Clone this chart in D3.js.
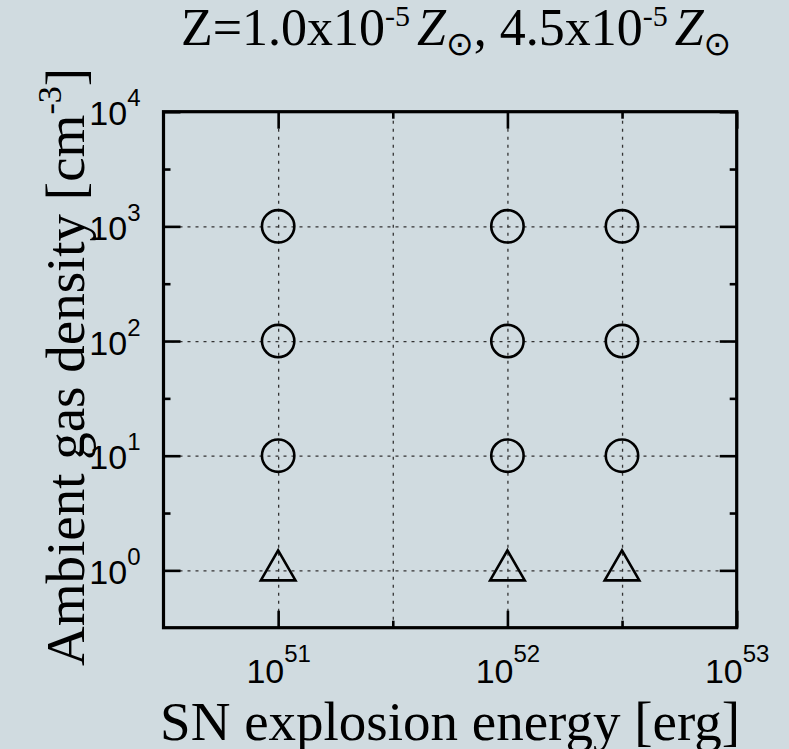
<!DOCTYPE html>
<html>
<head>
<meta charset="utf-8">
<script src="https://cdn.jsdelivr.net/npm/d3@7"></script>
<style>
  body { margin: 0; background: #d0dbe0; }
  svg { display: block; }
  .grid line { stroke: #333; stroke-width: 1.3; stroke-dasharray: 3,5; }
  .ticks line { stroke: #000; stroke-width: 2.6; }
</style>
</head>
<body>
<div id="vis"></div>
<script>
const FRAME_WIDTH = 789;
const FRAME_HEIGHT = 749;
const MARGINS = {left: 163.5, right: 52.3, top: 111.7, bottom: 121.3};

const VIS_WIDTH = FRAME_WIDTH - MARGINS.left - MARGINS.right;
const VIS_HEIGHT = FRAME_HEIGHT - MARGINS.top - MARGINS.bottom;

// models run: explosion energy [erg] x ambient density [cm^-3]
const energies = [1e51, 1e52, 3.16e52];
const densities = [1e0, 1e1, 1e2, 1e3];
const markerTypes = ["triangle", "circle", "circle", "circle"]; // one per density

// axis ranges and ticks
const xDomain = [3.162e50, 1e53];
const yDomain = [3.162e-1, 1e4];
const xMajorTicks = [1e51, 1e52, 1e53];
const xMinorTicks = [3.162e51, 3.162e52];
const yMajorTicks = [1e0, 1e1, 1e2, 1e3, 1e4];
const yMinorTicks = [3.162e0, 3.162e1, 3.162e2, 3.162e3];
const xGridValues = [1e51, 3.162e51, 1e52, 3.162e52];
const yGridValues = [1e0, 1e1, 1e2, 1e3];

const FRAME = d3.select("#vis")
  .append("svg")
    .attr("width", FRAME_WIDTH)
    .attr("height", FRAME_HEIGHT);

const X_SCALE = d3.scaleLog().domain(xDomain).range([0, VIS_WIDTH]);
const Y_SCALE = d3.scaleLog().domain(yDomain).range([VIS_HEIGHT, 0]);

const plot = FRAME.append("g")
  .attr("transform", "translate(" + MARGINS.left + "," + MARGINS.top + ")");

// dotted grid
plot.append("g")
    .attr("class", "grid")
    .attr("transform", "translate(0," + VIS_HEIGHT + ")")
    .call(d3.axisBottom(X_SCALE).tickValues(xGridValues).tickSize(-VIS_HEIGHT).tickFormat(""))
    .call(g => g.select(".domain").remove());
plot.append("g")
    .attr("class", "grid")
    .call(d3.axisLeft(Y_SCALE).tickValues(yGridValues).tickSize(-VIS_WIDTH).tickFormat(""))
    .call(g => g.select(".domain").remove());

// inward ticks on all four sides
function tickAxis(axis, transform) {
  plot.append("g")
      .attr("class", "ticks")
      .attr("transform", transform)
      .call(axis)
      .call(g => g.select(".domain").remove());
}
const MAJOR = 17, MINOR = 7;
tickAxis(d3.axisBottom(X_SCALE).tickValues(xMajorTicks).tickSize(-MAJOR).tickFormat(""), "translate(0," + VIS_HEIGHT + ")");
tickAxis(d3.axisBottom(X_SCALE).tickValues(xMinorTicks).tickSize(-MINOR).tickFormat(""), "translate(0," + VIS_HEIGHT + ")");
tickAxis(d3.axisTop(X_SCALE).tickValues(xMajorTicks).tickSize(-MAJOR).tickFormat(""), "translate(0,0)");
tickAxis(d3.axisTop(X_SCALE).tickValues(xMinorTicks).tickSize(-MINOR).tickFormat(""), "translate(0,0)");
tickAxis(d3.axisLeft(Y_SCALE).tickValues(yMajorTicks).tickSize(-MAJOR).tickFormat(""), "translate(0,0)");
tickAxis(d3.axisLeft(Y_SCALE).tickValues(yMinorTicks).tickSize(-MINOR).tickFormat(""), "translate(0,0)");
tickAxis(d3.axisRight(Y_SCALE).tickValues(yMajorTicks).tickSize(-MAJOR).tickFormat(""), "translate(" + VIS_WIDTH + ",0)");
tickAxis(d3.axisRight(Y_SCALE).tickValues(yMinorTicks).tickSize(-MINOR).tickFormat(""), "translate(" + VIS_WIDTH + ",0)");

// power-of-ten tick labels
function powerLabels(text, raise) {
  text.each(function(d) {
    const t = d3.select(this).text(null);
    t.append("tspan").text("10");
    t.append("tspan")
      .attr("dy", -raise)
      .attr("font-size", 24)
      .text(Math.round(Math.log10(d)));
  });
}

plot.append("g")
    .attr("transform", "translate(0," + VIS_HEIGHT + ")")
    .call(d3.axisBottom(X_SCALE).tickValues(xMajorTicks).tickSize(0).tickPadding(0))
    .call(g => g.selectAll(".domain, line").remove())
    .attr("font-family", "'Liberation Sans', Arial, sans-serif")
    .attr("font-size", 34)
    .selectAll("text")
      .attr("y", 55.5)
      .attr("dy", null)
      .attr("fill", "#000")
      .call(powerLabels, 21);

plot.append("g")
    .call(d3.axisLeft(Y_SCALE).tickValues(yMajorTicks).tickSize(0).tickPadding(23))
    .call(g => g.selectAll(".domain, line").remove())
    .attr("font-family", "'Liberation Sans', Arial, sans-serif")
    .attr("font-size", 34)
    .selectAll("text")
      .attr("dy", 13)
      .attr("fill", "#000")
      .call(powerLabels, 19);

// frame
plot.append("rect")
    .attr("width", VIS_WIDTH)
    .attr("height", VIS_HEIGHT)
    .attr("fill", "none")
    .attr("stroke", "#000")
    .attr("stroke-width", 3.2);

// markers
const points = [];
densities.forEach((n, i) => energies.forEach(e => points.push({e: e, n: n, type: markerTypes[i]})));

plot.selectAll(".pt")
    .data(points)
    .enter()
    .append("path")
      .attr("class", "pt")
      .attr("transform", d => "translate(" + X_SCALE(d.e) + "," + Y_SCALE(d.n) + ")")
      .attr("d", d => d.type === "circle"
          ? d3.symbol(d3.symbolCircle, Math.PI * 16.2 * 16.2)()
          : d3.symbol(d3.symbolTriangle, 520)())
      .attr("fill", "none")
      .attr("stroke", "#000")
      .attr("stroke-width", 2.6);

// titles
const SERIF = "'Liberation Serif', 'Times New Roman', serif";

const title = FRAME.append("text")
    .attr("x", 181)
    .attr("y", 45)
    .attr("font-family", SERIF)
    .attr("font-size", 52)
    .attr("fill", "#000");
title.append("tspan").text("Z=1.0x10");
title.append("tspan").attr("dy", -19).attr("font-size", 30).text("-5");
title.append("tspan").attr("dy", 19).attr("dx", 7).attr("font-style", "italic").text("Z");
title.append("tspan").attr("dy", 10).attr("font-size", 33).attr("font-family", "'DejaVu Sans', sans-serif").text("\u2299");
title.append("tspan").attr("dy", -10).text(", 4.5x10");
title.append("tspan").attr("dy", -19).attr("font-size", 30).text("-5");
title.append("tspan").attr("dy", 19).attr("dx", 7).attr("font-style", "italic").text("Z");
title.append("tspan").attr("dy", 10).attr("font-size", 33).attr("font-family", "'DejaVu Sans', sans-serif").text("\u2299");

FRAME.append("text")
    .attr("x", MARGINS.left + VIS_WIDTH / 2)
    .attr("y", 740)
    .attr("text-anchor", "middle")
    .attr("font-family", SERIF)
    .attr("font-size", 55)
    .attr("fill", "#000")
    .text("SN explosion energy [erg]");

const yTitle = FRAME.append("text")
    .attr("transform", "translate(84,367) rotate(-90)")
    .attr("text-anchor", "middle")
    .attr("font-family", SERIF)
    .attr("font-size", 55)
    .attr("fill", "#000");
yTitle.append("tspan").text("Ambient gas density [cm");
yTitle.append("tspan").attr("dy", -23).attr("font-size", 34).text("-3");
yTitle.append("tspan").attr("dy", 23).text("]");
</script>
</body>
</html>
